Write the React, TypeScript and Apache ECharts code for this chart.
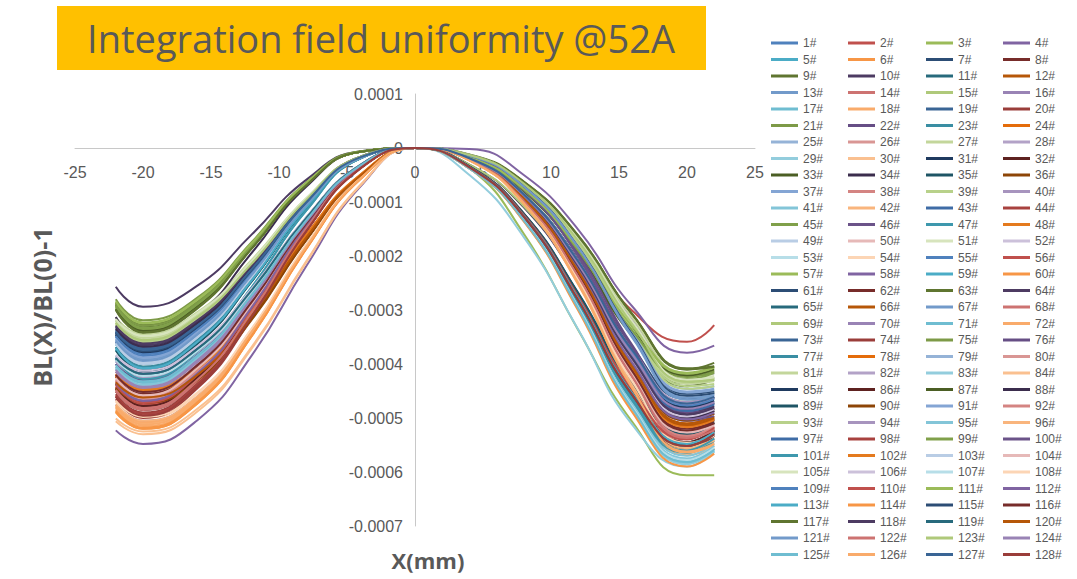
import React, { useEffect, useRef } from 'react';
import * as echarts from 'echarts';

// x positions (mm)
const X_MM = [-22, -20, -16, -12, -8, -4, 0, 4, 8, 12, 16, 20, 22];

// BL(X)/BL(0)-1 in units of 1e-6, one row per magnet (1# .. 128#)
const CURVES_MICRO: number[][] = [
  [-400,-430,-383,-271,-133,-32,0,-20,-91,-222,-396,-500,-487],
  [-414,-445,-396,-280,-138,-33,0,-14,-68,-172,-302,-359,-328],
  [-296,-337,-292,-184,-68,-7,0,-37,-159,-337,-508,-606,-606],
  [-523,-548,-504,-384,-219,-71,0,-2,-50,-151,-294,-379,-366],
  [-364,-400,-352,-240,-108,-18,0,-38,-133,-296,-481,-580,-557],
  [-489,-520,-473,-348,-187,-57,0,-22,-101,-246,-440,-554,-540],
  [-341,-375,-330,-225,-101,-17,0,-19,-85,-207,-369,-465,-454],
  [-437,-470,-418,-296,-146,-35,0,-34,-122,-270,-440,-530,-509],
  [-287,-327,-284,-178,-66,-7,0,-13,-63,-163,-309,-410,-398],
  [-257,-294,-255,-160,-59,-6,0,-31,-110,-245,-398,-480,-461],
  [-386,-415,-369,-261,-129,-31,0,-22,-97,-238,-424,-535,-521],
  [-432,-460,-419,-308,-166,-51,0,-20,-90,-220,-393,-495,-483],
  [-355,-390,-343,-234,-105,-18,0,-14,-68,-177,-337,-446,-441],
  [-446,-480,-427,-302,-149,-36,0,-21,-94,-229,-408,-515,-502],
  [-319,-350,-308,-210,-95,-16,0,-31,-108,-240,-390,-470,-451],
  [-475,-505,-460,-338,-182,-56,0,-13,-65,-168,-318,-421,-417],
  [-395,-425,-378,-268,-132,-32,0,-38,-135,-298,-486,-585,-562],
  [-484,-515,-469,-345,-185,-57,0,-23,-104,-253,-451,-569,-555],
  [-332,-365,-321,-219,-99,-16,0,-20,-88,-216,-385,-485,-473],
  [-456,-490,-436,-309,-152,-37,0,-35,-125,-278,-452,-545,-523],
  [-280,-319,-277,-174,-64,-6,0,-18,-79,-194,-345,-436,-425],
  [-409,-440,-392,-277,-136,-33,0,-15,-74,-193,-366,-485,-480],
  [-373,-410,-361,-246,-111,-18,0,-36,-129,-286,-465,-560,-538],
  [-423,-455,-405,-287,-141,-34,0,-21,-93,-227,-404,-510,-497],
  [-350,-385,-339,-231,-104,-17,0,-14,-70,-181,-344,-456,-451],
  [-442,-470,-428,-315,-169,-52,0,-21,-96,-235,-420,-530,-516],
  [-314,-345,-304,-207,-93,-16,0,-13,-64,-166,-315,-417,-412],
  [-405,-435,-387,-274,-135,-33,0,-20,-92,-224,-400,-505,-492],
  [-391,-420,-374,-265,-130,-32,0,-50,-165,-336,-513,-590,-561],
  [-506,-530,-488,-371,-212,-69,0,-22,-100,-244,-436,-549,-536],
  [-359,-395,-348,-237,-107,-18,0,-19,-87,-213,-381,-480,-468],
  [-451,-485,-432,-306,-150,-36,0,-35,-125,-278,-452,-545,-523],
  [-291,-332,-288,-181,-67,-7,0,-18,-80,-196,-349,-441,-429],
  [-313,-356,-310,-194,-72,-7,0,-20,-90,-220,-393,-495,-483],
  [-369,-405,-356,-243,-109,-18,0,-34,-121,-268,-436,-525,-504],
  [-447,-475,-432,-318,-171,-52,0,-20,-91,-222,-396,-500,-487],
  [-346,-380,-334,-228,-103,-17,0,-14,-69,-179,-340,-451,-446],
  [-432,-465,-414,-293,-144,-35,0,-22,-97,-238,-424,-535,-521],
  [-323,-355,-312,-213,-96,-16,0,-14,-68,-176,-333,-441,-437],
  [-419,-450,-401,-284,-140,-34,0,-19,-86,-209,-373,-470,-458],
  [-409,-440,-392,-277,-136,-33,0,-37,-131,-291,-473,-570,-547],
  [-479,-510,-464,-342,-184,-56,0,-23,-102,-249,-444,-559,-545],
  [-337,-370,-326,-222,-100,-17,0,-20,-88,-216,-385,-485,-473],
  [-460,-495,-441,-312,-153,-37,0,-36,-127,-281,-457,-550,-528],
  [-294,-335,-291,-183,-68,-7,0,-17,-77,-189,-338,-426,-415],
  [-391,-420,-374,-265,-130,-32,0,-15,-77,-201,-381,-505,-500],
  [-391,-430,-378,-258,-116,-19,0,-37,-130,-288,-469,-565,-542],
  [-418,-445,-405,-298,-160,-49,0,-21,-94,-229,-408,-515,-502],
  [-364,-400,-352,-240,-108,-18,0,-14,-71,-183,-348,-461,-456],
  [-428,-460,-409,-290,-143,-35,0,-21,-95,-233,-416,-525,-511],
  [-319,-350,-308,-210,-95,-16,0,-13,-65,-170,-322,-426,-422],
  [-386,-415,-369,-261,-129,-31,0,-20,-91,-222,-396,-500,-487],
  [-395,-425,-378,-268,-132,-32,0,-37,-132,-293,-477,-575,-552],
  [-470,-500,-455,-335,-180,-55,0,-22,-99,-242,-432,-545,-531],
  [-350,-385,-339,-231,-104,-17,0,-19,-86,-211,-377,-475,-463],
  [-442,-475,-423,-299,-147,-36,0,-35,-124,-274,-447,-538,-516],
  [-285,-325,-282,-177,-66,-7,0,-17,-76,-185,-330,-416,-405],
  [-437,-470,-418,-296,-146,-35,0,-20,-92,-224,-400,-505,-492],
  [-373,-410,-361,-246,-111,-18,0,-35,-125,-278,-452,-545,-523],
  [-489,-520,-473,-348,-187,-57,0,-38,-133,-296,-481,-580,-557],
  [-344,-378,-333,-227,-102,-17,0,-14,-70,-181,-344,-456,-451],
  [-423,-455,-405,-287,-141,-34,0,-21,-95,-231,-412,-520,-507],
  [-300,-342,-297,-186,-69,-7,0,-12,-62,-162,-308,-408,-404],
  [-332,-365,-321,-219,-99,-16,0,-20,-89,-218,-389,-490,-478],
  [-391,-420,-374,-265,-130,-32,0,-36,-128,-283,-461,-555,-533],
  [-437,-465,-423,-312,-167,-51,0,-21,-93,-227,-404,-510,-497],
  [-359,-395,-348,-237,-107,-18,0,-14,-71,-185,-352,-466,-461],
  [-451,-485,-432,-306,-150,-36,0,-22,-97,-238,-424,-535,-521],
  [-328,-360,-317,-216,-97,-16,0,-13,-66,-172,-326,-431,-427],
  [-414,-445,-396,-280,-138,-33,0,-20,-88,-216,-385,-485,-473],
  [-405,-435,-387,-274,-135,-33,0,-38,-133,-296,-481,-580,-557],
  [-481,-512,-466,-343,-184,-56,0,-23,-103,-251,-447,-564,-550],
  [-339,-372,-327,-223,-100,-17,0,-19,-86,-211,-377,-475,-463],
  [-465,-500,-445,-315,-155,-38,0,-36,-128,-283,-461,-555,-533],
  [-289,-329,-286,-179,-66,-7,0,-17,-77,-188,-336,-424,-413],
  [-400,-430,-383,-271,-133,-32,0,-15,-75,-195,-370,-490,-485],
  [-369,-405,-356,-243,-109,-18,0,-36,-127,-281,-457,-550,-528],
  [-423,-450,-410,-302,-162,-50,0,-21,-94,-229,-408,-515,-502],
  [-355,-390,-343,-234,-105,-18,0,-14,-71,-183,-348,-461,-456],
  [-432,-465,-414,-293,-144,-35,0,-21,-96,-235,-420,-530,-516],
  [-320,-352,-310,-211,-95,-16,0,-13,-67,-174,-329,-436,-432],
  [-395,-425,-378,-268,-132,-32,0,-20,-92,-224,-400,-505,-492],
  [-409,-440,-392,-277,-136,-33,0,-38,-135,-298,-486,-585,-562],
  [-501,-525,-483,-368,-210,-68,0,-22,-101,-246,-440,-554,-540],
  [-346,-380,-334,-228,-103,-17,0,-20,-88,-215,-383,-483,-471],
  [-445,-478,-425,-301,-148,-36,0,-35,-125,-278,-452,-545,-523],
  [-298,-339,-294,-185,-68,-7,0,-17,-77,-187,-334,-421,-410],
  [-335,-368,-324,-221,-99,-17,0,-20,-91,-222,-396,-500,-487],
  [-375,-412,-363,-247,-111,-19,0,-34,-122,-270,-440,-530,-509],
  [-444,-472,-430,-316,-170,-52,0,-20,-92,-224,-400,-505,-492],
  [-353,-388,-341,-233,-105,-17,0,-14,-69,-180,-342,-453,-448],
  [-430,-462,-411,-291,-143,-35,0,-22,-97,-237,-422,-533,-519],
  [-326,-358,-315,-215,-97,-16,0,-14,-68,-177,-337,-446,-441],
  [-420,-452,-402,-285,-140,-34,0,-19,-86,-211,-377,-475,-463],
  [-407,-438,-390,-276,-136,-33,0,-37,-132,-293,-477,-575,-552],
  [-475,-505,-460,-338,-182,-56,0,-22,-101,-247,-441,-556,-542],
  [-341,-375,-330,-225,-101,-17,0,-20,-89,-216,-386,-487,-475],
  [-458,-492,-438,-310,-153,-37,0,-36,-126,-279,-455,-548,-526],
  [-292,-333,-289,-181,-67,-7,0,-17,-78,-190,-339,-428,-417],
  [-389,-418,-372,-263,-130,-31,0,-15,-77,-200,-379,-502,-497],
  [-389,-428,-377,-257,-116,-19,0,-36,-129,-286,-465,-560,-538],
  [-421,-448,-408,-300,-161,-49,0,-21,-94,-230,-410,-517,-504],
  [-362,-398,-350,-239,-107,-18,0,-14,-70,-183,-346,-459,-454],
  [-426,-458,-408,-289,-142,-34,0,-21,-96,-234,-418,-527,-513],
  [-317,-348,-306,-209,-94,-16,0,-13,-66,-171,-324,-429,-425],
  [-383,-412,-367,-260,-128,-31,0,-20,-90,-221,-394,-497,-484],
  [-392,-422,-376,-266,-131,-32,0,-38,-133,-295,-480,-578,-555],
  [-468,-498,-453,-334,-179,-55,0,-22,-99,-243,-433,-546,-533],
  [-348,-382,-336,-229,-103,-17,0,-19,-87,-212,-378,-477,-465],
  [-439,-472,-420,-297,-146,-35,0,-35,-124,-275,-448,-540,-518],
  [-284,-323,-280,-176,-65,-7,0,-17,-76,-186,-331,-418,-407],
  [-435,-468,-417,-295,-145,-35,0,-20,-91,-224,-399,-503,-490],
  [-371,-408,-359,-245,-110,-18,0,-36,-126,-279,-455,-548,-526],
  [-487,-518,-471,-347,-186,-57,0,-38,-136,-301,-490,-590,-566],
  [-342,-376,-331,-226,-102,-17,0,-14,-70,-183,-346,-459,-454],
  [-420,-452,-402,-285,-140,-34,0,-21,-95,-232,-414,-523,-510],
  [-299,-341,-296,-186,-69,-7,0,-13,-63,-163,-309,-410,-405],
  [-329,-362,-319,-217,-98,-16,0,-20,-90,-219,-391,-493,-481],
  [-389,-418,-372,-263,-130,-31,0,-36,-127,-282,-458,-552,-530],
  [-434,-462,-420,-310,-166,-51,0,-21,-93,-228,-407,-513,-500],
  [-357,-392,-345,-235,-106,-18,0,-14,-71,-184,-349,-463,-458],
  [-448,-482,-429,-304,-149,-36,0,-22,-98,-238,-425,-537,-523],
  [-324,-356,-313,-214,-96,-16,0,-13,-66,-172,-327,-433,-429],
  [-411,-442,-393,-278,-137,-33,0,-20,-88,-215,-383,-483,-471],
  [-402,-432,-384,-272,-134,-32,0,-38,-134,-297,-483,-582,-559],
  [-478,-508,-462,-340,-183,-56,0,-23,-102,-250,-446,-562,-548],
  [-340,-374,-329,-224,-101,-17,0,-19,-86,-210,-375,-473,-461],
  [-461,-496,-441,-312,-154,-37,0,-36,-127,-282,-458,-552,-530],
];

const SERIES_NAMES = CURVES_MICRO.map((_, i) => `${i + 1}#`);

const Y_TICK_MIN = -0.0007;
const Y_TICK_MAX = 0.0001;
const Y_TICK_STEP = 0.0001;
const X_TICK_MIN = -25;
const X_TICK_MAX = 25;
const X_TICK_STEP = 5;

const TITLE = 'Integration field uniformity @52A';
const Y_TITLE = 'BL(X)/BL(0)-1';
const X_TITLE = 'X(mm)';

// Excel 2010 office theme series colour cycle (54 colours)
const PALETTE = [
  '#4F81BD', '#C0504D', '#9BBB59', '#8064A2', '#4BACC6', '#F79646',
  '#2C4D75', '#772C2A', '#5F7530', '#4D3B62', '#276A7C', '#B65708',
  '#729ACA', '#CD7371', '#AFC97A', '#9983B5', '#6FBDD1', '#F9AB6B',
  '#3A6595', '#9A3D3A', '#7D9A47', '#664E85', '#3A8EA3', '#E46C0A',
  '#95B3D7', '#D99694', '#C3D69B', '#B3A2C7', '#93CDDD', '#FAC090',
  '#1F3A5F', '#5E2220', '#4B5E24', '#3B2D4D', '#1E5565', '#8D4506',
  '#84A5D4', '#D48482', '#B8D18A', '#A794BE', '#83C5D8', '#F9B57D',
  '#3F6CA6', '#A8423F', '#80A04A', '#6B5389', '#3E98AD', '#E47A1E',
  '#B9CDE5', '#E6B9B8', '#D7E4BD', '#CCC1DA', '#B7DEE8', '#FCD5B5',
];

const TEXT_COLOR = '#595959';
const LEGEND_COL_X = [771, 848, 926, 1003];

// plot area in page pixels
const GRID = { left: 75, right: 322, top: 94, bottom: 53 };
const PLOT_W = 1077 - GRID.left - GRID.right;
const PLOT_H = 579 - GRID.top - GRID.bottom;

export default function App() {
  const ref = useRef<HTMLDivElement>(null);

  useEffect(() => {
    document.body.style.margin = '0';
    if (!ref.current) return;
    const chart = echarts.init(ref.current, undefined, { renderer: 'svg' });

    // axes cross at (0, 0): shift them from the grid edges
    const xAxisOffset = -PLOT_H * (0 - Y_TICK_MIN) / (Y_TICK_MAX - Y_TICK_MIN);
    const yAxisOffset = -PLOT_W * (0 - X_TICK_MIN) / (X_TICK_MAX - X_TICK_MIN);

    const series = CURVES_MICRO.map((row, i) => ({
      name: SERIES_NAMES[i],
      type: 'line',
      smooth: 0.5,
      showSymbol: false,
      symbol: 'none',
      color: PALETTE[i % PALETTE.length],
      lineStyle: { width: 2, color: PALETTE[i % PALETTE.length] },
      data: row.map((v, j) => [X_MM[j], v * 1e-6]),
    }));

    const legends = LEGEND_COL_X.map((left, c) => ({
      orient: 'vertical',
      left,
      top: 36,
      padding: 0,
      itemGap: 2.5,
      itemWidth: 27,
      itemHeight: 3,
      icon: 'rect',
      selectedMode: false,
      data: SERIES_NAMES.filter((_, i) => i % 4 === c),
      textStyle: { color: TEXT_COLOR, fontSize: 12, lineHeight: 14, fontFamily: 'Liberation Sans' },
    }));

    chart.setOption({
      animation: false,
      backgroundColor: '#ffffff',
      grid: GRID,
      legend: legends,
      xAxis: {
        type: 'value',
        position: 'bottom',
        offset: xAxisOffset,
        min: X_TICK_MIN,
        max: X_TICK_MAX,
        interval: X_TICK_STEP,
        axisLine: { onZero: false, lineStyle: { color: '#C8C8C8', width: 1 } },
        axisTick: { show: false },
        splitLine: { show: false },
        axisLabel: { color: TEXT_COLOR, fontSize: 16, margin: 16, fontFamily: 'Liberation Sans' },
      },
      yAxis: {
        type: 'value',
        position: 'left',
        offset: yAxisOffset,
        min: Y_TICK_MIN,
        max: Y_TICK_MAX,
        interval: Y_TICK_STEP,
        axisLine: { show: true, onZero: false, lineStyle: { color: '#C8C8C8', width: 1 } },
        axisTick: { show: false },
        splitLine: { show: false },
        axisLabel: {
          color: TEXT_COLOR,
          fontSize: 16,
          margin: 12,
          fontFamily: 'Liberation Sans',
          formatter: (v: number) => (Math.abs(v) < 1e-9 ? '0' : v.toFixed(4)),
        },
      },
      graphic: [
        { type: 'rect', shape: { x: 57, y: 6, width: 649, height: 64 }, style: { fill: '#FFC000' }, z: 1 },
        {
          type: 'text', x: 381, y: 38, z: 2,
          style: { text: TITLE, fill: TEXT_COLOR, font: '38px "Open Sans"', textAlign: 'center', textVerticalAlign: 'middle' },
        },
        {
          type: 'text', x: 42, y: 307, rotation: Math.PI / 2, z: 2,
          style: { text: Y_TITLE, fill: TEXT_COLOR, font: 'bold 25px "Open Sans"', textAlign: 'center', textVerticalAlign: 'middle' },
        },
        {
          type: 'text', x: 428, y: 560, z: 2,
          style: { text: X_TITLE, fill: TEXT_COLOR, font: 'bold 22px "Open Sans"', textAlign: 'center', textVerticalAlign: 'middle' },
        },
      ],
      series,
    });

    return () => chart.dispose();
  }, []);

  return <div ref={ref} style={{ width: 1077, height: 579 }} />;
}
